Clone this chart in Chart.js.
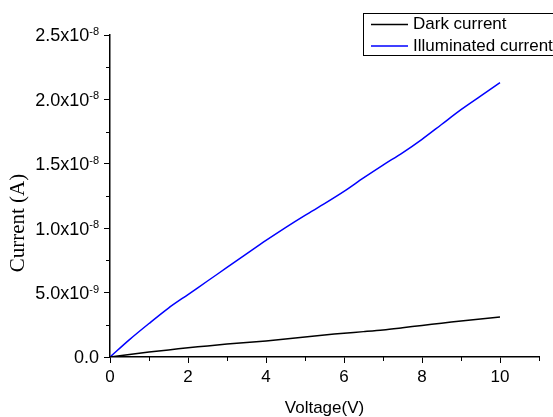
<!DOCTYPE html>
<html>
<head>
<meta charset="utf-8">
<script src="https://cdn.jsdelivr.net/npm/chart.js@4/dist/chart.umd.min.js"></script>
<style>
  html, body { margin: 0; padding: 0; background: #fff; }
  #wrap { width: 553px; height: 417px; }
</style>
</head>
<body>
<div id="wrap"><canvas id="myChart" width="553" height="417"></canvas></div>
<script>
// readings taken off the I-V plot
const voltage = [0, 0.5, 1, 1.5, 2, 2.5, 3, 3.5, 4, 4.5, 5, 5.5, 6, 6.5, 7, 7.5, 8, 8.5, 9, 9.5, 10];
const darkCurrent = [0, 0.2e-9, 0.38e-9, 0.55e-9, 0.72e-9, 0.86e-9, 1.0e-9, 1.12e-9, 1.25e-9, 1.4e-9, 1.55e-9,
  1.7e-9, 1.85e-9, 1.97e-9, 2.1e-9, 2.27e-9, 2.45e-9, 2.62e-9, 2.8e-9, 2.95e-9, 3.1e-9];
const illumCurrent = [0, 1.35e-9, 2.6e-9, 3.8e-9, 4.85e-9, 5.9e-9, 6.95e-9, 8.0e-9, 9.05e-9, 10.05e-9, 11.0e-9,
  11.9e-9, 12.85e-9, 13.9e-9, 14.9e-9, 15.85e-9, 16.9e-9, 18.05e-9, 19.2e-9, 20.25e-9, 21.3e-9];

const seriesNames = ["Dark current", "Illuminated current"];
const seriesColors = ["#000000", "#0000ff"];

// major y labels, [mantissa part, exponent]
const yTickLabels = [["0.0", ""], ["5.0x10", "-9"], ["1.0x10", "-8"], ["1.5x10", "-8"], ["2.0x10", "-8"], ["2.5x10", "-8"]];
const xTitle = "Voltage(V)";
const yTitle = "Current (A)";

const SANS = "'Liberation Sans', Arial, sans-serif";
const SERIF = "'Liberation Serif', 'Times New Roman', serif";
const Y_STEP = 2.5e-9;

const toPoints = (xs, ys) => xs.map((x, i) => ({ x: x, y: ys[i] }));

const axisExtras = {
  id: "axisExtras",
  afterDraw(chart) {
    const c = chart.ctx;
    const xs = chart.scales.x;
    const ys = chart.scales.y;
    c.save();
    c.strokeStyle = "#000";
    c.lineWidth = 1;

    // short minor ticks
    xs.ticks.forEach((t) => {
      if (Math.round(t.value) % 2 === 0) return;
      const px = Math.round(xs.getPixelForValue(t.value)) + 0.5;
      c.beginPath();
      c.moveTo(px, xs.top);
      c.lineTo(px, xs.top + 4);
      c.stroke();
    });
    ys.ticks.forEach((t) => {
      if (Math.round(t.value / Y_STEP) % 2 === 0) return;
      const py = Math.round(ys.getPixelForValue(t.value)) + 0.5;
      c.beginPath();
      c.moveTo(ys.right, py);
      c.lineTo(ys.right - 4, py);
      c.stroke();
    });

    // y labels with superscript exponent
    c.fillStyle = "#000";
    c.textBaseline = "middle";
    const right = 99;
    ys.ticks.forEach((t) => {
      const idx = Math.round(t.value / Y_STEP);
      if (idx % 2 !== 0) return;
      const lab = yTickLabels[idx / 2];
      if (!lab) return;
      const py = ys.getPixelForValue(t.value);
      c.font = "11px " + SANS;
      const supW = lab[1] ? c.measureText(lab[1]).width : 0;
      c.font = "18px " + SANS;
      c.textAlign = "right";
      c.fillText(lab[0], right - supW, py + 1.5);
      if (lab[1]) {
        c.font = "11px " + SANS;
        c.textAlign = "left";
        c.fillText(lab[1], right - supW, py - 3);
      }
    });

    // y title
    c.save();
    c.translate(18, 223);
    c.rotate(-Math.PI / 2);
    c.font = "21px " + SERIF;
    c.textAlign = "center";
    c.fillText(yTitle, 0, 0);
    c.restore();

    // legend box
    c.lineWidth = 1;
    c.strokeRect(363.5, 13.5, 200, 42);
    const rows = [24.5, 46];
    chart.data.datasets.forEach((ds, i) => {
      c.strokeStyle = ds.borderColor;
      c.lineWidth = 1.5;
      c.beginPath();
      c.moveTo(371, rows[i]);
      c.lineTo(408, rows[i]);
      c.stroke();
      c.fillStyle = "#000";
      c.font = "17px " + SANS;
      c.textAlign = "left";
      c.fillText(ds.label, 413, rows[i]);
    });
    c.restore();
  },
};

const ctx = document.querySelector("canvas#myChart").getContext("2d");
const myChart = new Chart(ctx, {
  type: "line",
  data: {
    datasets: [
      { label: seriesNames[0], data: toPoints(voltage, darkCurrent), borderColor: seriesColors[0] },
      { label: seriesNames[1], data: toPoints(voltage, illumCurrent), borderColor: seriesColors[1] },
    ],
  },
  options: {
    responsive: false,
    animation: false,
    devicePixelRatio: 1,
    layout: { padding: { left: 0, top: 35, right: 14, bottom: 0 } },
    elements: {
      point: { radius: 0 },
      line: { borderWidth: 1.5, tension: 0.3, fill: false },
    },
    plugins: { legend: { display: false }, tooltip: { enabled: false } },
    scales: {
      x: {
        type: "linear",
        min: 0,
        max: 11,
        afterFit: (scale) => { scale.height = 60; },
        border: { color: "#000", width: 1.5 },
        grid: {
          drawOnChartArea: false,
          tickLength: 6,
          tickColor: (c) => (c.tick && Math.round(c.tick.value) % 2 === 0 ? "#000" : "transparent"),
        },
        ticks: {
          stepSize: 1,
          color: "#000",
          padding: 4,
          maxRotation: 0,
          font: { family: SANS, size: 17 },
          callback: (v) => (Math.round(v) % 2 === 0 ? String(v) : ""),
        },
        title: {
          display: true,
          text: xTitle,
          color: "#000",
          font: { family: SANS, size: 17 },
          padding: { top: 4, bottom: -2 },
        },
      },
      y: {
        type: "linear",
        min: 0,
        max: 2.5e-8,
        afterFit: (scale) => { scale.width = 110; },
        border: { color: "#000", width: 1.5 },
        grid: {
          drawOnChartArea: false,
          tickLength: 6,
          tickColor: (c) => (c.tick && Math.round(c.tick.value / Y_STEP) % 2 === 0 ? "#000" : "transparent"),
        },
        ticks: { stepSize: Y_STEP, display: false },
      },
    },
  },
  plugins: [axisExtras],
});
</script>
</body>
</html>
